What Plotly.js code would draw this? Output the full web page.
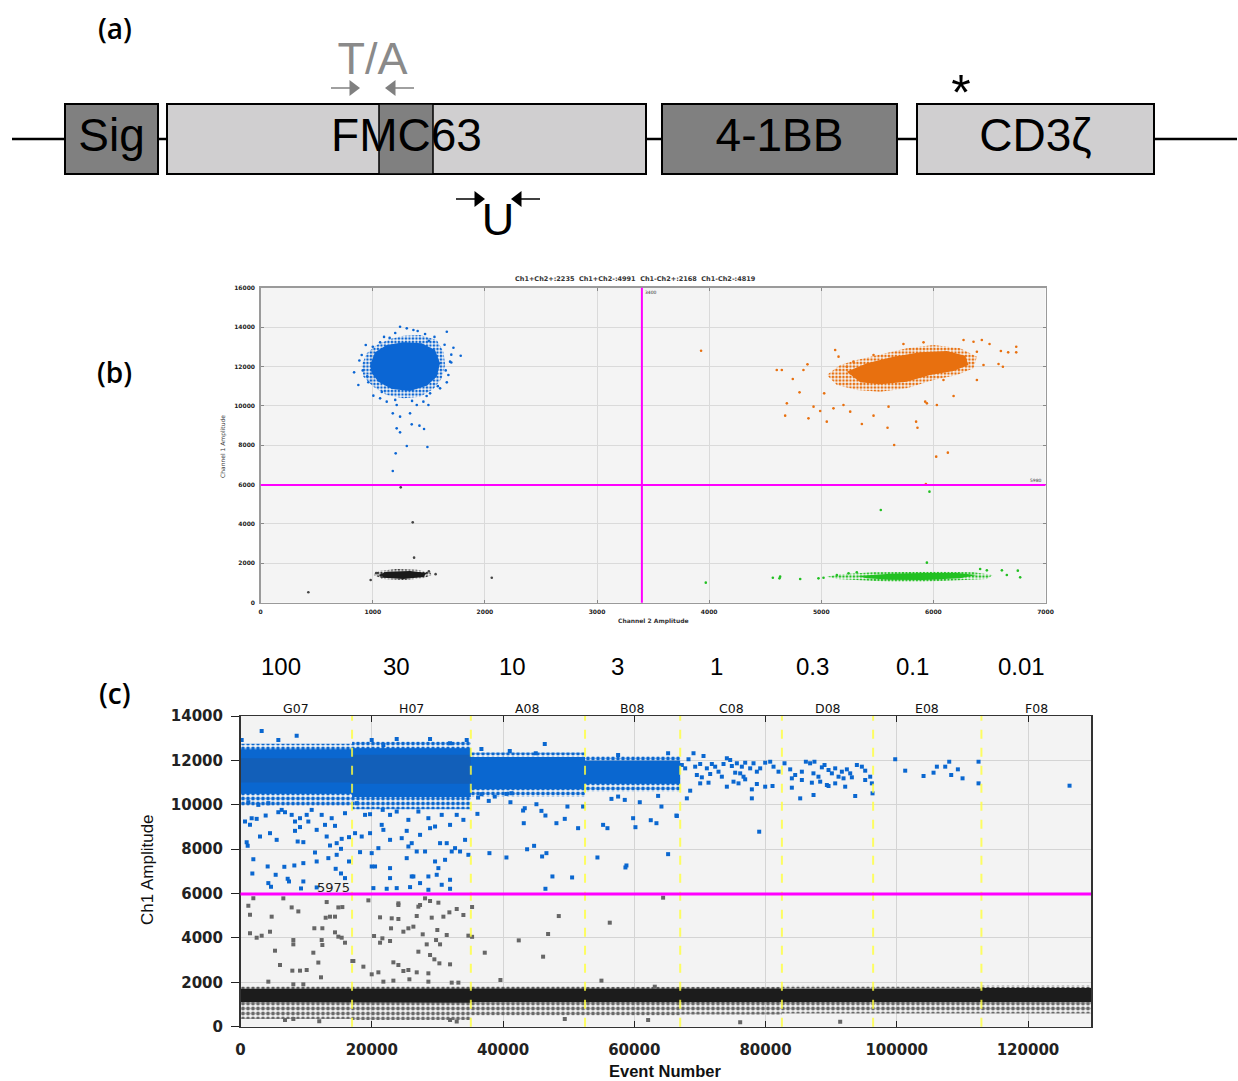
<!DOCTYPE html>
<html><head><meta charset="utf-8">
<script src="https://cdn.plot.ly/plotly-3.0.1.min.js"></script>
<style>html,body{margin:0;padding:0;background:#fff}#chart{width:1238px;height:1081px}</style>
</head><body><div id="chart"></div>
<script>
// ================= DATA =================
// (a) CAR construct map (diagram units, left to right)
const domainNames = ['Sig', 'FMC63', '4-1BB', 'CD3ζ'];
const domainStart = [65, 167, 662, 917];
const domainEnd = [158, 646, 897, 1154];
const backboneStart = 12, backboneEnd = 1237;
const taRegionStart = 379, taRegionEnd = 433;
const primerNames = ['T/A', 'U'];
const primerFwd = [331, 456];
const primerRev = [414, 540];
const mutationSite = 961;

// (b) 2-D droplet plot (Channel 2 amplitude x, Channel 1 amplitude y)
const bTitle = 'Ch1+Ch2+:2235  Ch1+Ch2-:4991  Ch1-Ch2+:2168  Ch1-Ch2-:4819';
const bThreshCh2 = 3400, bThreshCh1 = 5980;
const bBlueCoreX = [976,1020,1124,1273,1436,1555,1600,1570,1481,1332,1169,1050,990];
const bBlueCoreY = [12073,12716,13089,13225,13174,12835,12158,11480,11023,10752,10854,11227,11650];
const bBlueHaloX = [901,946,1035,1154,1273,1422,1570,1630,1645,1615,1541,1422,1273,1124,1005,916];
const bBlueHaloY = [12073,12666,13089,13394,13563,13597,13343,12750,12073,11396,10854,10465,10380,10549,10972,11481];
const bBlueX = [833,871,937,901,1065,1243,1303,1362,1466,1660,1719,1784,1689,1674,1660,1600,1511,1496,1451,1392,1332,1243,1178,1213,1124,1065,1005,1213,1243,1347,1416,1457,1303,1487,1204,1178,880,910,960,1000,1100,1200,1400,1550,1640,1700,1650,1580,1480,1350,1200,1080,950,1150,1500,1700];
const bBlueY = [11700,11057,13089,12581,13225,14020,13935,13851,13648,13766,12953,12547,12243,11565,11193,10888,10634,10041,10211,10041,9618,9449,9618,10041,10211,10380,10516,8856,8653,9060,8992,8822,7959,7908,7587,6689,12300,11800,11200,13000,13500,13700,13800,13500,13100,12600,11800,11000,10500,10250,10300,10700,11500,13450,13300,12200];
const bOrangeCoreX = [5228,5406,5644,5882,6120,6284,6313,6180,5971,5763,5525,5347];
const bOrangeCoreY = [11734,12158,12497,12716,12784,12547,12073,11768,11565,11227,11091,11193];
const bOrangeHaloX = [5049,5168,5317,5525,5763,6001,6239,6388,6358,6209,6001,5763,5525,5317,5139];
const bOrangeHaloY = [11565,12073,12327,12615,12920,13089,12920,12496,11904,11565,11311,10888,10719,10803,11057];
const bOrangeX = [3928,4603,4648,4746,4806,4693,4678,4841,4877,4931,4886,4990,5026,5049,5124,5109,5198,5258,5362,5466,5591,5650,5600,5846,5858,5927,6031,6180,6025,6129,6388,6447,6501,6432,6269,6358,6581,6620,6602,6667,6739,6739,6388,5912,5733,5466,5287,5228,5154,5942,6090,5933];
const bOrangeY = [12801,11819,11819,11362,10685,10126,9500,11819,12107,9957,9364,9737,10634,9195,12835,9872,10042,9703,9076,9500,8890,8010,9957,9195,8890,10211,10042,10499,7418,7621,11311,12073,13140,13343,13343,13258,12124,11988,12784,12716,13004,12716,12750,13225,13140,12581,12243,11988,12497,10126,11311,6029];
const bGreenCoreX = [5317,5615,5912,6209,6388,6239,5912,5615,5406];
const bGreenCoreY = [1357,1475,1509,1509,1407,1238,1154,1170,1238];
const bGreenHaloX = [5049,5168,5466,5763,6061,6358,6531,6477,6209,5912,5615,5317,5139];
const bGreenHaloY = [1323,1441,1543,1577,1577,1543,1407,1204,1154,1069,1069,1154,1204];
const bGreenX = [3970,4568,4633,4627,4812,4975,5020,5942,5531,5965,6611,6655,6753,6774,6417,6477,5139,5243,5317];
const bGreenY = [1018,1271,1323,1238,1204,1238,1271,2034,4708,5640,1644,1407,1627,1288,1712,1644,1407,1492,1543];
const bBlackCoreX = [1050,1124,1332,1481,1451,1273,1094];
const bBlackCoreY = [1407,1576,1610,1509,1306,1204,1271];
const bBlackHaloX = [1005,1050,1213,1392,1511,1526,1451,1273,1094];
const bBlackHaloY = [1407,1610,1712,1678,1542,1407,1238,1153,1204];
const bBlackX = [981,2061,425,1249,1356,1368,1030,1560,1500,1080];
const bBlackY = [1153,1271,527,5860,4082,2287,1500,1450,1600,1300];

// (c) 1-D amplitude plot by event number
const wellNames = ['G07','H07','A08','B08','C08','D08','E08','F08'];
const wellDilution = ['100','30','10','3','1','0.3','0.1','0.01'];
const wellEdges = [0,17000,35100,52500,67000,82500,96400,112900,129600];
const cThresh = 5975;
const blueFringeTop = [12750,12850,12350,12200,null,null,null,null];
const blueFringeBottom = [9950,9800,10350,10600,null,null,null,null];
const blueDenseTop = [12500,12550,12150,12000,null,null,null,null];
const blueDenseBottom = [10500,10350,10700,10950,null,null,null,null];
const blueCoreTop = [12100,12250,null,null,null,null,null,null];
const blueCoreBottom = [11000,10950,null,null,null,null,null,null];
const blackTopFringe = [1820,1850,1820,1800,1800,1850,1820,1880];
const blackBandTop = [1700,1720,1720,1700,1700,1720,1720,1740];
const blackBandBottom = [1100,1080,1100,1110,1120,1120,1120,1100];
const grayFringeBottom = [350,300,500,500,550,600,600,600];
const cBlueX = [3226,8560,5766,178,686,1702,2464,1448,2972,3836,4496,5512,5766,6782,8306,8712,9576,10084,11608,13132,14402,14656,15418,15316,16536,940,1092,1956,4140,5360,6680,8204,9576,11354,11608,13386,13640,14656,14504,15316,15926,16536,1804,4242,4648,7188,7392,9576,9220,11608,1194,2718,4242,6274,7798,9068,10846,12370,13894,15926,8306,10338,12878,9068,
19994,23804,28884,34472,21772,31932,17708,18978,19740,21670,22788,23804,25582,27106,28630,29646,30662,31932,32948,33964,17454,18470,19740,21518,22788,24566,26090,27360,28884,30408,31424,32694,34218,18216,19994,21010,22788,25328,26090,26852,28122,30154,31170,32186,33456,34726,19994,20502,22788,23804,26344,28630,29900,31932,20248,22280,25836,27360,28630,30662,31932,21772,25328,29646,25582,
46364,36712,41030,44992,57540,65160,36204,36712,37830,38744,40522,41284,41132,43316,43062,45094,45856,46466,48142,49412,49818,51444,52206,43164,36102,56524,57540,58556,60842,64144,55254,55914,59826,60182,62518,63382,66430,37932,40522,43672,44738,45958,46618,47532,50530,46466,54390,58810,58656,65160,63636,
69030,70554,68268,67252,67760,69284,70046,71062,71824,72332,72840,73602,74110,74618,74872,75634,76396,76904,77666,78174,78682,79190,79952,80714,81222,81984,69538,70300,71316,73348,74110,75126,75888,76904,77920,78682,79952,81070,68522,68014,77920,79038,66490,70046,71570,75380,76142,76650,
82898,83762,84524,85540,86150,86796,87458,87306,88068,88994,89604,90112,90620,91128,91636,92398,92906,93922,94684,95192,95954,84016,85540,87064,88334,89350,90620,91890,93160,95192,84016,85286,87318,89604,92144,93668,96310,96208,88588,
99764,101288,104082,105606,106114,107386,107996,108298,109314,110026,112464,112464,126332];
const cBlueY = [13325,13115,12920,12920,9245,9395,9365,9095,8570,9515,8720,8420,9665,9665,8825,8345,8315,9545,8870,8570,9050,8270,8465,8015,8540,8315,8150,7550,7220,6845,7205,7265,7370,7850,7445,7595,8165,7745,7115,6905,6695,7445,6905,6470,6305,6665,6545,6545,6230,6275,10115,9995,10070,9770,9545,9395,9770,9545,9395,9620,9245,9245,9095,8995,
12920,12965,12965,12920,12695,12770,10070,9545,9575,9770,9545,9695,9320,9695,9395,9020,9545,9095,9545,9320,8720,8570,8720,9095,8420,8495,8270,8645,8945,8270,8270,8045,8420,7865,7820,8045,7145,7595,6770,7895,7895,7145,7520,7895,7895,7745,7220,7220,6695,6245,6770,6770,6845,6620,6245,6215,6290,6470,6170,6395,6215,8870,8825,7445,8120,
12740,12515,12425,12320,12245,12320,10325,10475,10175,10370,10490,10520,10115,9845,9740,10025,9725,9515,9170,9365,9920,8945,9920,9170,9590,10265,10370,10220,10115,9920,9095,8945,9395,8990,9305,9170,9515,7820,7625,7995,8150,7670,7820,6770,6725,6215,7625,7265,7175,7775,10400,
12317,12197,12047,11791,11641,11717,11837,11641,11837,11717,11491,11837,12092,12017,11747,11867,11717,11897,11641,11867,11491,11641,11897,11942,11717,11491,11341,11236,10995,11266,10815,11041,10965,11146,10695,10935,10815,10845,10635,10289,10289,8787,9493,10965,11386,11446,11416,11266,
11867,11596,11341,11491,11942,11867,11942,11416,11266,11792,11566,11416,11641,11266,11491,11596,11416,11792,11717,11536,11266,11191,11116,10995,11041,10890,10965,11191,11236,11116,10770,10289,10440,10845,10815,10395,10515,10965,11686,
12047,11536,11296,11446,11717,11717,11942,11341,11596,11191,11942,10965,10860];
const cGrayX = [1194,1956,1448,4750,6528,7798,8814,13132,14402,14910,15520,12980,13640,1448,2464,3226,4496,8052,8052,11252,12472,12370,12472,14402,14910,15418,15926,5258,11100,11862,6020,7900,9068,10084,12268,17044,4242,8052,9576,
19486,24058,24058,27106,28122,28884,30154,27360,21264,23042,24058,26852,29138,30916,31830,32948,33964,22940,24820,25582,26344,27766,29992,20350,21620,22788,21264,28376,29798,30408,31424,34726,27106,28884,29544,30306,17200,23296,24058,24820,25582,26852,28630,31932,18724,19994,21010,21772,23296,25734,28630,32186,33202,
35290,35290,37220,42402,46872,48498,46110,39608,56270,55000,64398,63128,31932,32948,12000,6782,8052,49412,62114,76142,91382];
const cGrayY = [5453,5783,5045,4958,5783,5375,5195,5617,4958,5375,5390,4910,4958,4207,4010,4100,4280,3905,3710,4435,4435,3905,3680,4252,4057,4010,3785,3425,3335,2890,2780,2525,2525,2555,2225,2960,2030,1910,1910,
5693,5558,5483,5408,5783,5663,5588,5483,4928,4883,4853,4988,4913,4958,5153,5303,5033,4433,4282,4433,4508,4162,4357,4087,3982,3862,3785,3710,3905,3710,4132,4102,3380,3230,3035,2855,2960,2900,2780,2510,2555,2450,2405,2810,2705,2360,2450,2030,2075,2135,2030,1985,1985,
5393,4050,3335,3890,4177,4986,3155,2105,4687,2075,5814,1803,300,230,250,300,345,345,300,200,227];

// ================= STYLE / BUILD =================
const AX = {family:'DejaVu Sans', color:'#222'};
const ROW_Y = 139, ABOVE_Y = 88, BELOW_Y = 199, LABEL_ABOVE_Y = 63, LABEL_BELOW_Y = 224;
const domainFill = ['#808080','#d0cfd0','#808080','#d0cfd0'];
const primerColor = ['#808080','#000000'];
const primerRowY = [ABOVE_Y, BELOW_Y];
const primerLabelY = [LABEL_ABOVE_Y, LABEL_BELOW_Y];

const traces = [];
const bbX = [], bbY = [];
const stops = [backboneStart].concat(domainStart.flatMap((s,i)=>[s, domainEnd[i]])).concat([backboneEnd]);
for (let i=0;i<stops.length;i+=2){ bbX.push(stops[i],stops[i+1],null); bbY.push(ROW_Y,ROW_Y,null); }
traces.push({type:'scatter',mode:'lines',x:bbX,y:bbY,xaxis:'x',yaxis:'y',line:{color:'#000',width:2.5},hoverinfo:'skip'});
traces.push({type:'bar',orientation:'h',base:domainStart,x:domainStart.map((s,i)=>domainEnd[i]-s),
  y:domainStart.map(()=>ROW_Y),width:70,xaxis:'x',yaxis:'y',
  marker:{color:domainFill,line:{color:'#000',width:2}},hoverinfo:'skip'});
traces.push({type:'bar',orientation:'h',base:[taRegionStart],x:[taRegionEnd-taRegionStart],y:[ROW_Y],width:70,xaxis:'x',yaxis:'y',
  marker:{color:'#808080',line:{color:'#000',width:1.5}},hoverinfo:'skip'});
traces.push({type:'scatter',mode:'text',x:domainStart.map((s,i)=>(s+domainEnd[i])/2),y:domainStart.map(()=>ROW_Y),
  text:domainNames,textposition:'middle center',textfont:{family:'Liberation Sans',size:46,color:'#000'},xaxis:'x',yaxis:'y',hoverinfo:'skip'});
primerNames.forEach((p,i)=>{
  const yy = primerRowY[i];
  traces.push({type:'scatter',mode:'lines',x:[primerFwd[i],primerFwd[i]+22,null,primerRev[i]-22,primerRev[i]],y:[yy,yy,null,yy,yy],
    line:{color:primerColor[i],width:1.5},xaxis:'x',yaxis:'y',hoverinfo:'skip'});
  traces.push({type:'scatter',mode:'markers',x:[primerFwd[i]+22,primerRev[i]-22],y:[yy,yy],
    marker:{symbol:['triangle-right','triangle-left'],size:14,color:primerColor[i],line:{width:0}},xaxis:'x',yaxis:'y',hoverinfo:'skip'});
  traces.push({type:'scatter',mode:'text',x:[(primerFwd[i]+primerRev[i])/2],y:[primerLabelY[i]],text:[p],textposition:'middle center',
    textfont:{family:'Liberation Sans',size:45,color:i===0?'#8a8a8a':'#000'},xaxis:'x',yaxis:'y',hoverinfo:'skip'});
});
traces.push({type:'scatter',mode:'text',x:[mutationSite],y:[97],text:['*'],textposition:'middle center',
  textfont:{family:'Liberation Sans',size:50,color:'#000'},xaxis:'x',yaxis:'y',hoverinfo:'skip'});

// ---- (b)
function poly(x,y,xa,ya,color,pattern){
  const t = {type:'scatter',mode:'lines',x:x.concat([x[0]]),y:y.concat([y[0]]),fill:'toself',line:{width:0,color:color},
    xaxis:xa,yaxis:ya,hoverinfo:'skip'};
  if (pattern) { t.fillcolor='rgba(0,0,0,0)'; t.fillpattern={shape:'.',fgcolor:color,bgcolor:'rgba(0,0,0,0)',size:pattern.size,solidity:pattern.solidity}; }
  else t.fillcolor = color;
  return t;
}
const bColors = {blue:'#0b66d4',orange:'#e8700f',green:'#22c022',black:'#1a1a1a'};
const bPat = {size:3.5,solidity:0.45};
traces.push(poly(bBlueHaloX,bBlueHaloY,'x2','y2',bColors.blue,bPat));
traces.push(poly(bOrangeHaloX,bOrangeHaloY,'x2','y2',bColors.orange,bPat));
traces.push(poly(bGreenHaloX,bGreenHaloY,'x2','y2',bColors.green,bPat));
traces.push(poly(bBlackHaloX,bBlackHaloY,'x2','y2','#333',bPat));
traces.push(poly(bBlueCoreX,bBlueCoreY,'x2','y2',bColors.blue));
traces.push(poly(bOrangeCoreX,bOrangeCoreY,'x2','y2',bColors.orange));
traces.push(poly(bGreenCoreX,bGreenCoreY,'x2','y2',bColors.green));
traces.push(poly(bBlackCoreX,bBlackCoreY,'x2','y2',bColors.black));
[[bBlueX,bBlueY,bColors.blue],[bOrangeX,bOrangeY,bColors.orange],[bGreenX,bGreenY,bColors.green],[bBlackX,bBlackY,'#444']].forEach(([x,y,c])=>{
  traces.push({type:'scatter',mode:'markers',x:x,y:y,xaxis:'x2',yaxis:'y2',marker:{size:2.6,color:c,line:{width:0}},hoverinfo:'skip'});
});

// ---- (c)
function stepBand(tops,bottoms){
  const n = tops.filter(v=>v!=null).length;
  const x=[],y=[];
  for(let i=0;i<n;i++){x.push(wellEdges[i],wellEdges[i+1]);y.push(tops[i],tops[i]);}
  for(let i=n-1;i>=0;i--){x.push(wellEdges[i+1],wellEdges[i]);y.push(bottoms[i],bottoms[i]);}
  return {x,y};
}
const cPat = {size:5,solidity:0.5};
function bandTrace(tops,bottoms,color,pattern){ const b = stepBand(tops,bottoms); return poly(b.x,b.y,'x3','y3',color,pattern); }
traces.push(bandTrace(blueFringeTop,blueFringeBottom,'#0a67d0',cPat));
traces.push(bandTrace(blueDenseTop,blueDenseBottom,'#0a67d0'));
traces.push(bandTrace(blueCoreTop,blueCoreBottom,'#125fb9'));
traces.push(bandTrace(blackBandBottom,grayFringeBottom,'#6a6a6a',cPat));
traces.push(bandTrace(blackTopFringe,blackBandTop,'#5a5a5a',cPat));
traces.push(bandTrace(blackBandTop,blackBandBottom,'#1c1c1c'));
traces.push({type:'scatter',mode:'markers',x:cGrayX,y:cGrayY,xaxis:'x3',yaxis:'y3',marker:{symbol:'square',size:4,color:'#666',line:{width:0}},hoverinfo:'skip'});
traces.push({type:'scatter',mode:'markers',x:cBlueX,y:cBlueY,xaxis:'x3',yaxis:'y3',marker:{symbol:'square',size:4,color:'#0a67d0',line:{width:0}},hoverinfo:'skip'});

// ---- layout
const W=1238,H=1081;
const px = v=>v/W, py = v=>1-v/H;
const shapes = [
  {type:'rect',xref:'x2 domain',yref:'y2 domain',x0:0,x1:1,y0:0,y1:1,fillcolor:'#f4f4f4',line:{width:0},layer:'below'},
  {type:'rect',xref:'x3 domain',yref:'y3 domain',x0:0,x1:1,y0:0,y1:1,fillcolor:'#f3f3f3',line:{width:0},layer:'below'},
  {type:'line',xref:'x2',yref:'y2 domain',x0:bThreshCh2,x1:bThreshCh2,y0:0,y1:1,line:{color:'#ff00ff',width:2}},
  {type:'line',xref:'x2 domain',yref:'y2',x0:0,x1:1,y0:bThreshCh1,y1:bThreshCh1,line:{color:'#ff00ff',width:2}},
];
wellEdges.slice(1,-1).forEach(e=>shapes.push({type:'line',xref:'x3',yref:'y3 domain',x0:e,x1:e,y0:0,y1:1,line:{color:'rgba(255,255,60,0.8)',width:2,dash:'dash'}}));
shapes.push({type:'line',xref:'x3 domain',yref:'y3',x0:0,x1:1,y0:cThresh,y1:cThresh,line:{color:'#ff00ff',width:3}});

const annotations = [];
function ann(o){ annotations.push(Object.assign({showarrow:false,xanchor:'center',yanchor:'middle'},o)); }
[['(a)',28],['(b)',372],['(c)',693]].forEach(([t,y])=>ann({text:t,xref:'paper',yref:'paper',x:px(115),y:py(y),font:{family:'Open Sans',size:28,weight:600,color:'#000'}}));
ann({text:bTitle,xref:'paper',yref:'paper',x:px(635),y:py(279),font:{family:'DejaVu Sans',size:6.5,weight:'bold',color:'#333'}});
ann({text:'Channel 1 Amplitude',xref:'paper',yref:'paper',x:px(223),y:py(446),textangle:-90,font:{family:'DejaVu Sans',size:6,color:'#333'}});
ann({text:'Channel 2 Amplitude',xref:'paper',yref:'paper',x:px(653),y:py(621),font:{family:'DejaVu Sans',size:6,weight:'bold',color:'#333'}});
ann({text:String(bThreshCh2),xref:'x2',yref:'paper',x:bThreshCh2,xanchor:'left',xshift:1,y:py(292),font:{family:'DejaVu Sans',size:4.5,color:'#333'}});
ann({text:String(bThreshCh1),xref:'paper',yref:'y2',x:px(1044),xanchor:'right',y:bThreshCh1,yanchor:'bottom',font:{family:'DejaVu Sans',size:4.5,color:'#333'}});
ann({text:'Ch1 Amplitude',xref:'paper',yref:'paper',x:px(147),y:py(870),textangle:-90,font:{family:'Liberation Sans',size:17,color:'#111'}});
ann({text:'Event Number',xref:'paper',yref:'paper',x:px(665),y:py(1071),font:{family:'Liberation Sans',size:16.5,weight:'bold',color:'#111'}});
ann({text:String(cThresh),xref:'x3',yref:'y3',x:14100,y:cThresh,yanchor:'bottom',yshift:-3,font:{family:'DejaVu Sans',size:13,color:'#222'}});
wellNames.forEach((n,i)=>{
  const c=(wellEdges[i]+wellEdges[i+1])/2;
  ann({text:n,xref:'x3',yref:'paper',x:c,y:py(708),font:{family:'DejaVu Sans',size:12.5,color:'#111'}});
  ann({text:wellDilution[i],xref:'x3',yref:'paper',x:c,xshift:-15,y:py(666),font:{family:'Liberation Sans',size:24,color:'#000'}});
});

const layout = {
  width:W,height:H,margin:{l:0,r:0,t:0,b:0},paper_bgcolor:'#fff',plot_bgcolor:'rgba(0,0,0,0)',showlegend:false,barmode:'overlay',
  xaxis:{domain:[0,1],range:[0,W],visible:false,fixedrange:true,anchor:'y'},
  yaxis:{domain:[py(250),1],range:[250,0],visible:false,fixedrange:true,anchor:'x'},
  xaxis2:{domain:[px(260.7),px(1045.5)],range:[0,7000],anchor:'y2',dtick:1000,tickformat:'d',showgrid:true,gridcolor:'#dadada',zeroline:false,
    showline:true,linecolor:'#9a9a9a',linewidth:1.5,mirror:'ticks',ticks:'inside',ticklen:3,tickcolor:'#888',ticklabelstandoff:3,
    tickfont:Object.assign({size:6,weight:'bold'},AX)},
  yaxis2:{domain:[py(602.7),py(287.7)],range:[0,16000],anchor:'x2',dtick:2000,tickformat:'d',showgrid:true,gridcolor:'#dadada',zeroline:false,
    showline:true,linecolor:'#9a9a9a',linewidth:1.5,mirror:'ticks',ticks:'inside',ticklen:3,tickcolor:'#888',ticklabelstandoff:3,
    tickfont:Object.assign({size:6,weight:'bold'},AX)},
  xaxis3:{domain:[px(240.5),px(1091)],range:[0,129600],anchor:'y3',dtick:20000,tickformat:'d',showgrid:true,gridcolor:'#d4d4d4',zeroline:false,
    showline:true,linecolor:'#333',linewidth:1.5,mirror:'ticks',ticks:'inside',ticklen:6,tickcolor:'#222',ticklabelstandoff:9,
    tickfont:Object.assign({size:15,weight:'bold'},AX)},
  yaxis3:{domain:[py(1026.7),py(716)],range:[0,14000],anchor:'x3',dtick:2000,tickformat:'d',showgrid:true,gridcolor:'#d4d4d4',zeroline:false,
    showline:true,linecolor:'#333',linewidth:1.5,mirror:true,ticks:'outside',ticklen:8,tickcolor:'#222',ticklabelstandoff:5,
    tickfont:Object.assign({size:15,weight:'bold'},AX)},
  shapes:shapes,annotations:annotations
};
Plotly.newPlot('chart',traces,layout,{displayModeBar:false,staticPlot:true});
</script></body></html>
